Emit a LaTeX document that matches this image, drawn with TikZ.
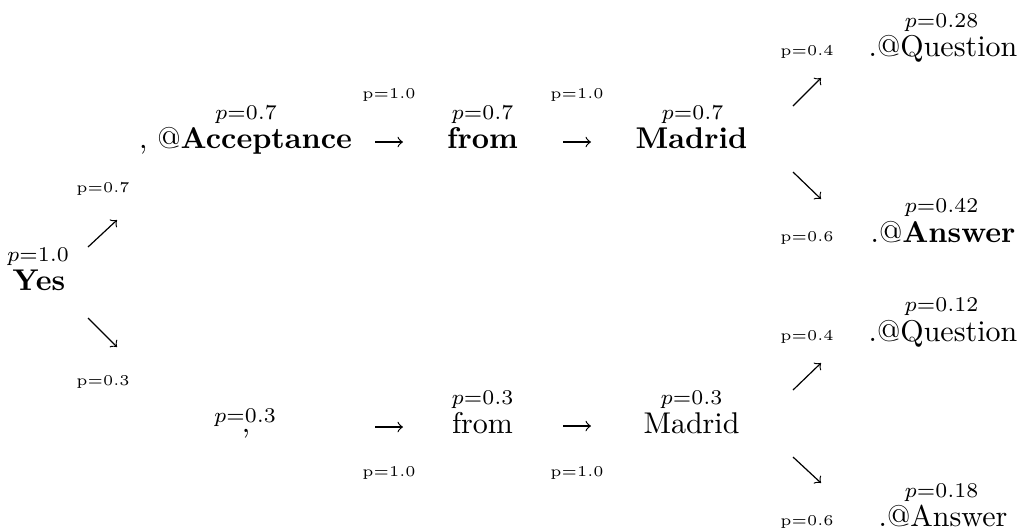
\documentclass[tikz,border=0pt]{standalone}
\usepackage{amssymb,amsmath}
\usepackage{tikz}

\begin{document}
\begin{tikzpicture}[x=0.3333pt,y=-0.3333pt,
  word/.style={anchor=base,inner sep=0pt},
  wordp/.style={font=\scriptsize,inner sep=0pt},
  edgep/.style={font=\tiny,inner sep=0pt},
  arr/.style={->,line width=0.4pt}]
  \useasboundingbox (0,0) rectangle (1019,529);
  % tokens (base centre)
  \node[word] (yes)   at (39,290)    {\textbf{Yes}};
  \node[word] (acc)   at (245.5,148) {, @\textbf{Acceptance}};
  \node[word] (fromA) at (482.5,148) {\textbf{from}};
  \node[word] (madA)  at (691.5,148) {\textbf{Madrid}};
  \node[word] (qA)    at (943,56)    {.@Question};
  \node[word] (ansA)  at (943,242)   {.@\textbf{Answer}};
  \node[word] (comB)  at (246,432)   {,};
  \node[word] (fromB) at (482.5,433) {from};
  \node[word] (madB)  at (691.5,433) {Madrid};
  \node[word] (qB)    at (943,341)   {.@Question};
  \node[word] (ansB)  at (943,526)   {.@Answer};
  % path probabilities over the tokens
  \foreach \n/\px/\py/\v in {yes/38/257/1.0, acc/246/115/0.7, fromA/482.5/115/0.7,
      madA/692.5/115/0.7, qA/941.5/23/0.28, ansA/941.5/208/0.42,
      comB/245/418/0.3, fromB/482.5/400/0.3, madB/691.5/400/0.3,
      qB/941.5/307/0.12, ansB/941.5/493/0.18} {
    \node[wordp] (p\n) at (\px,\py) {$p{=}\v$};
  }
  % arrows between tokens
  \foreach \n/\xa/\ya/\xb/\yb in {yu/88/247/117/220, yd/88/318/117/347,
      ra/375/142/403/142, rb/563/142/591/142,
      rc/375/427/403/427, rd/563/426/591/426,
      mu/793/106/821/78, md/793/172/821/199,
      nu/793/390/821/363, nd/793/457/821/483} {
    \coordinate (\n0) at (\xa,\ya);
    \coordinate (\n1) at (\xb,\yb);
    \draw[arr] (\n0) -- (\n1);
  }
  % transition probabilities
  \foreach \n/\px/\py/\v in {yu/103/189/0.7, yd/103/382/0.3,
      ra/389/95/1.0, rb/577/95/1.0, rc/389/473/1.0, rd/577/473/1.0,
      mu/807/52/0.4, md/807/238/0.6, nu/807/337/0.4, nd/807/522/0.6} {
    \node[edgep] (e\n) at (\px,\py) {p=\v};
  }
\end{tikzpicture}
\end{document}
